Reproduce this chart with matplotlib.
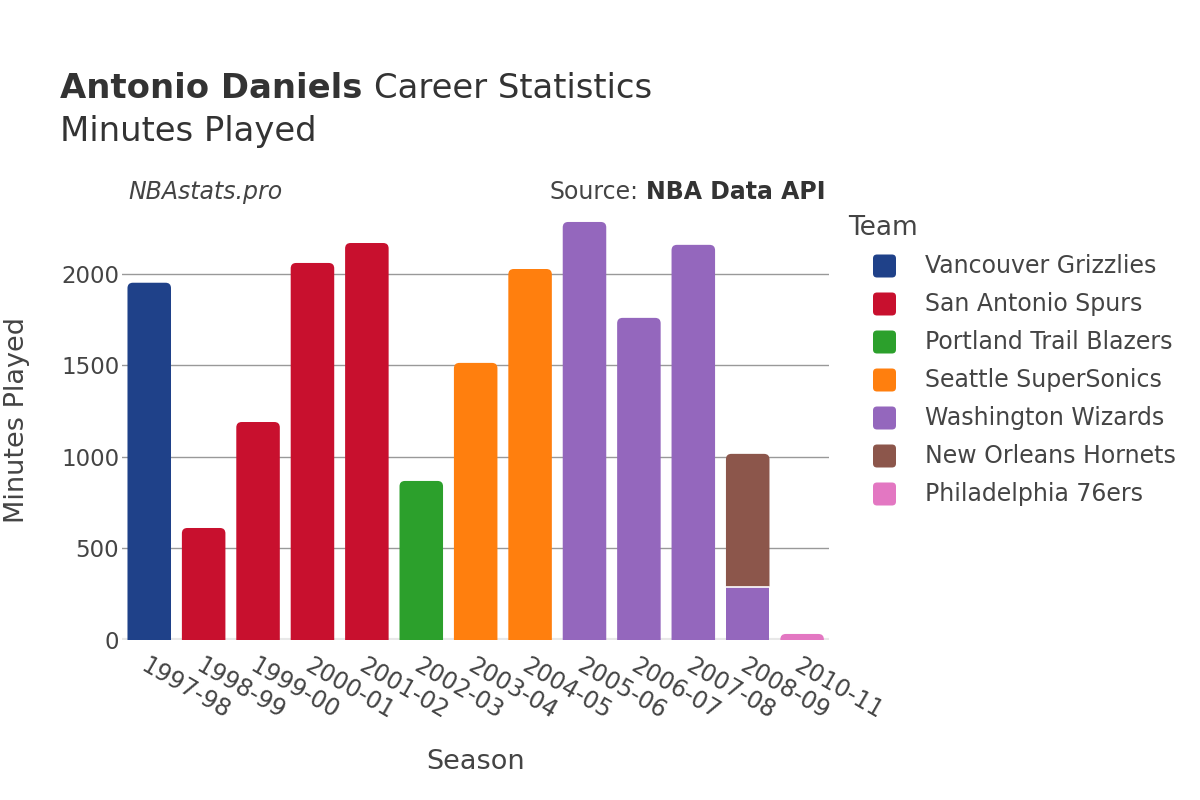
import matplotlib.pyplot as plt
from matplotlib.patches import FancyBboxPatch, Rectangle

# minutes played per season, split by team
seasons = ["1997-98", "1998-99", "1999-00", "2000-01", "2001-02", "2002-03", "2003-04",
           "2004-05", "2005-06", "2006-07", "2007-08", "2008-09", "2010-11"]
entry_season = ["1997-98", "1998-99", "1999-00", "2000-01", "2001-02", "2002-03", "2003-04",
                "2004-05", "2005-06", "2006-07", "2007-08", "2008-09", "2008-09", "2010-11"]
entry_team = ["Vancouver Grizzlies", "San Antonio Spurs", "San Antonio Spurs", "San Antonio Spurs",
              "San Antonio Spurs", "Portland Trail Blazers", "Seattle SuperSonics", "Seattle SuperSonics",
              "Washington Wizards", "Washington Wizards", "Washington Wizards", "Washington Wizards",
              "New Orleans Hornets", "Philadelphia 76ers"]
entry_minutes = [1952, 612, 1191, 2060, 2169, 869, 1514, 2027, 2284, 1760, 2159, 290, 727, 33]

teams = ["Vancouver Grizzlies", "San Antonio Spurs", "Portland Trail Blazers", "Seattle SuperSonics",
         "Washington Wizards", "New Orleans Hornets", "Philadelphia 76ers"]
team_colors = ["#1f4189", "#c8102e", "#2ca02c", "#ff7f0e", "#9467bd", "#8c564b", "#e377c2"]
color_of = dict(zip(teams, team_colors))

TXT = "#444444"
plt.rcParams['font.family'] = ['DejaVu Sans']

fig = plt.figure(figsize=(12, 8), dpi=100)
ax = fig.add_axes([0.1017, 0.2, 0.5894, 0.55])

ymax = 2404
ax.set_xlim(-0.5, len(seasons) - 0.5)
ax.set_ylim(0, ymax)

# pixels per unit, for rounding the bar tops
px_x = 0.5894 * 1200 / len(seasons)
px_y = 0.55 * 800 / ymax
aspect = px_x / px_y
width = 0.8
rad = 0.1

# last entry of each season gets the rounded top
last_idx = {}
for i, s in enumerate(entry_season):
    last_idx[s] = i

bottoms = {s: 0 for s in seasons}
for i, (s, t, m) in enumerate(zip(entry_season, entry_team, entry_minutes)):
    x = seasons.index(s)
    b = bottoms[s]
    c = color_of[t]
    if last_idx[s] == i:
        extra = 60
        p = FancyBboxPatch((x - width / 2, b - extra), width, m + extra,
                           boxstyle=f"round,pad=0,rounding_size={rad}",
                           mutation_aspect=aspect, facecolor=c, edgecolor="none", zorder=3)
        ax.add_patch(p)
        clip = Rectangle((x - width, b), 2 * width, m + 200, transform=ax.transData)
        p.set_clip_path(clip)
    else:
        ax.add_patch(Rectangle((x - width / 2, b), width, m, facecolor=c,
                               edgecolor="none", zorder=3))
    if b > 0:
        ax.plot([x - width / 2, x + width / 2], [b, b], color="white", linewidth=1.2, zorder=4)
    bottoms[s] = b + m

ax.set_xticks(range(len(seasons)))
ax.set_xticklabels(seasons, rotation=-30, ha="left", va="top", rotation_mode="anchor",
                   fontsize=17, color=TXT)
ax.set_yticks([0, 500, 1000, 1500, 2000])
ax.set_yticklabels(["0", "500", "1000", "1500", "2000"], fontsize=16.5, color=TXT)
ax.tick_params(axis="y", length=0, pad=2)
ax.tick_params(axis="x", length=0, pad=10)
ax.grid(axis="y", color="#999999", linewidth=1)
ax.set_axisbelow(True)
for sp in ax.spines.values():
    sp.set_visible(False)
ax.axhline(0, color="#e8e8e8", linewidth=3, zorder=2)

ax.set_ylabel("Minutes Played", fontsize=19.5, color=TXT, labelpad=22)
ax.set_xlabel("Season", fontsize=19.5, color=TXT, labelpad=18)

fig.canvas.draw()
r = fig.canvas.get_renderer()

t1 = fig.text(0.05, 0.889, "Antonio Daniels", fontsize=24.4, fontweight="bold", color="#333333",
              va="center")
bb = t1.get_window_extent(r)
fig.text(bb.x1 / 1200 + 0.0095, 0.889, "Career Statistics", fontsize=24.4, color="#333333",
         va="center")
fig.text(0.05, 0.835, "Minutes Played", fontsize=24.4, color="#333333", va="center")

fig.text(0.107, 0.76, "NBAstats.pro", fontsize=17, style="italic", color=TXT, va="center")
t2 = fig.text(0.688, 0.76, "NBA Data API", fontsize=17, fontweight="bold", color="#333333",
              va="center", ha="right")
bb2 = t2.get_window_extent(r)
fig.text(bb2.x0 / 1200 - 0.006, 0.76, "Source:", fontsize=17, color=TXT, va="center", ha="right")

# legend
fig.text(0.7067, 0.7155, "Team", fontsize=19, color=TXT, va="center")
for k, t in enumerate(teams):
    yc = 534 - k * 38
    fig.add_artist(FancyBboxPatch((873, yc - 11.5), 23, 23,
                                  boxstyle="round,pad=0,rounding_size=4",
                                  facecolor=color_of[t], edgecolor="none", transform=None))
    fig.text(0.771, yc / 800, t, fontsize=17, color=TXT, va="center")

fig.savefig("out.png", dpi=100)
